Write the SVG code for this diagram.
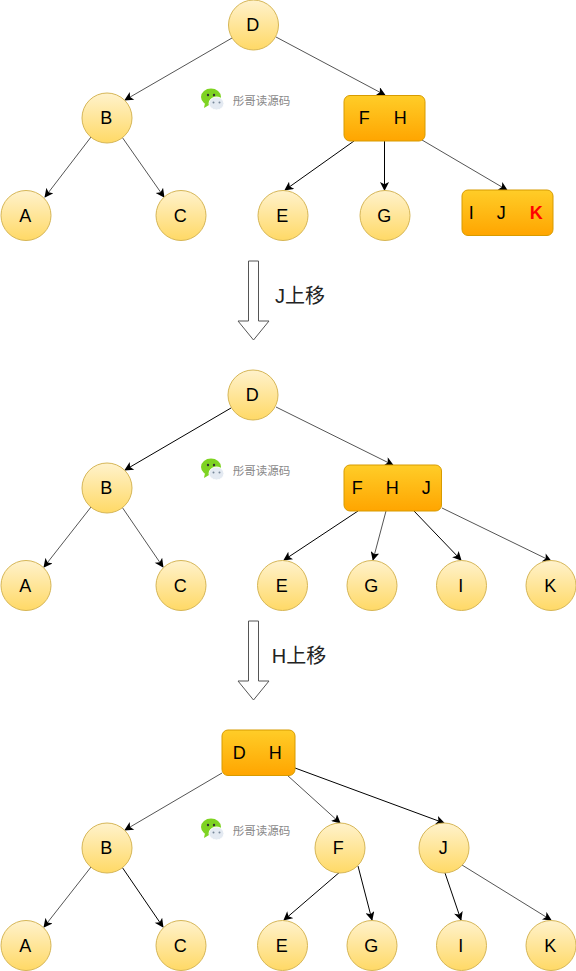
<svg xmlns="http://www.w3.org/2000/svg" width="576" height="971" viewBox="0 0 576 971">
<style>
text{font-family:"Liberation Sans","Noto Sans CJK SC",sans-serif;font-size:18px;fill:#000;text-anchor:middle}
g text{transform:translateX(-.7px)}
.c{fill:url(#cg);stroke:#d6b656}
.r{fill:url(#rg);stroke:#d79b00}
.k{fill:none;stroke:#000;stroke-width:1;marker-end:url(#a)}
.g{fill:none;stroke:#555;stroke-width:1;marker-end:url(#a)}
.big{fill:#fff;stroke:#555;stroke-width:1}
.w{font-size:11.500px;fill:#888}
.l{font-size:20px;fill:#222}
</style>
<defs>
<linearGradient id="cg" x1="0" y1="0" x2="0" y2="1"><stop offset="0" stop-color="#fff2cc"/><stop offset="1" stop-color="#ffd966"/></linearGradient>
<linearGradient id="rg" x1="0" y1="0" x2="0" y2="1"><stop offset="0" stop-color="#ffcd28"/><stop offset="1" stop-color="#ffa500"/></linearGradient>
<marker id="a" viewBox="0 0 10 10" refX="9" refY="5" markerWidth="10" markerHeight="9" markerUnits="userSpaceOnUse" orient="auto"><path d="M0 0L10 5L0 10L2.500 5Z" fill="#000"/></marker>
<g id="logo">
<ellipse cx="211" cy="97" rx="10" ry="8.500" fill="#7ed321"/>
<path d="M205 103l-1 5l5-3Z" fill="#7ed321"/>
<circle cx="208" cy="95" r="1.200" fill="#333"/><circle cx="214" cy="95" r="1.200" fill="#333"/>
<ellipse cx="216.500" cy="103.500" rx="7.500" ry="6.500" fill="#e4eaf2" stroke="#fff"/>
<circle cx="213.500" cy="102.500" r="1" fill="#789"/><circle cx="219.500" cy="102.500" r="1" fill="#789"/>
</g>
</defs>
<g id="connectors">
<path class="g" d="M232 38L125 100"/>
<path class="g" d="M276 37L385 95"/>
<path class="g" d="M91 137L45 197"/>
<path class="g" d="M122 137L164 197"/>
<path class="k" d="M354 141L285 190"/>
<path class="k" d="M384.500 141V190"/>
<path class="g" d="M422 140L507 190"/>
<path class="k" d="M231 408L125 470"/>
<path class="g" d="M276 407L393 465"/>
<path class="g" d="M91 507L44 567"/>
<path class="g" d="M122 507L163 567"/>
<path class="k" d="M358 511L284 560"/>
<path class="g" d="M386 511L373 560"/>
<path class="k" d="M414 511L461 560"/>
<path class="g" d="M442 508L551 561"/>
<path class="g" d="M222 773L125 830"/>
<path class="g" d="M287 775L340 823"/>
<path class="k" d="M295 768L444 823"/>
<path class="g" d="M91 867L44 927"/>
<path class="k" d="M122 867L163 927"/>
<path class="k" d="M341 871L284 920"/>
<path class="k" d="M358 866L372 920"/>
<path class="k" d="M445 873L461 920"/>
<path class="g" d="M462 865L551 920"/>
</g>
<g id="arrow1"><path class="big" d="M248.500 261H258.500V321H269L253.500 340L238 321H248.500Z"/></g>
<text class="l" x="300" y="303">J上移</text>
<g id="arrow2"><path class="big" d="M248.500 621H258.500V681H269L253.500 700L238 681H248.500Z"/></g>
<text class="l" x="299" y="663">H上移</text>
<use href="#logo"/>
<text class="w" x="261.500" y="105">彤哥读源码</text>
<use href="#logo" y="370"/>
<text class="w" x="261.500" y="475">彤哥读源码</text>
<use href="#logo" y="730"/>
<text class="w" x="261.500" y="835">彤哥读源码</text>
<g id="t-D"><circle class="c" cx="253.500" cy="25" r="25"/><text x="253.500" y="31">D</text></g>
<g id="t-B"><circle class="c" cx="107" cy="118" r="25"/><text x="107" y="124">B</text></g>
<g id="t-FH"><rect class="r" x="344" y="95.500" width="81" height="45.500" rx="6"/><text x="365" y="124">F</text><text x="401" y="124">H</text></g>
<g id="t-A"><circle class="c" cx="26" cy="215.500" r="25"/><text x="26" y="222">A</text></g>
<g id="t-C"><circle class="c" cx="181" cy="215.500" r="25"/><text x="181" y="222">C</text></g>
<g id="t-E"><circle class="c" cx="283" cy="215.500" r="25"/><text x="283" y="222">E</text></g>
<g id="t-G"><circle class="c" cx="385" cy="215.500" r="25"/><text x="385" y="222">G</text></g>
<g id="t-IJK"><rect class="r" x="462" y="190" width="91" height="45.500" rx="6"/><text x="472" y="219">I</text><text x="502" y="219">J</text><text x="537" y="219" style="fill:#f00;font-weight:bold">K</text></g>
<g id="m-D"><circle class="c" cx="253" cy="395" r="25"/><text x="253" y="401">D</text></g>
<g id="m-B"><circle class="c" cx="107" cy="488" r="25"/><text x="107" y="494">B</text></g>
<g id="m-FHJ"><rect class="r" x="344" y="465" width="97.500" height="46" rx="6"/><text x="358" y="494">F</text><text x="393" y="494">H</text><text x="427" y="494">J</text></g>
<g id="m-A"><circle class="c" cx="26" cy="585.500" r="25"/><text x="26" y="592">A</text></g>
<g id="m-C"><circle class="c" cx="181" cy="585.500" r="25"/><text x="181" y="592">C</text></g>
<g id="m-E"><circle class="c" cx="282.500" cy="585.500" r="25"/><text x="282.500" y="592">E</text></g>
<g id="m-G"><circle class="c" cx="372" cy="585.500" r="25"/><text x="372" y="592">G</text></g>
<g id="m-I"><circle class="c" cx="461.500" cy="585.500" r="25"/><text x="461.500" y="592">I</text></g>
<g id="m-K"><circle class="c" cx="551" cy="585.500" r="25"/><text x="551" y="592">K</text></g>
<g id="b-DH"><rect class="r" x="222" y="730" width="73" height="45.500" rx="6"/><text x="240" y="759">D</text><text x="276" y="759">H</text></g>
<g id="b-B"><circle class="c" cx="107" cy="848" r="25"/><text x="107" y="854">B</text></g>
<g id="b-F"><circle class="c" cx="340" cy="848" r="25"/><text x="339" y="854">F</text></g>
<g id="b-J"><circle class="c" cx="444" cy="848" r="25"/><text x="444" y="854">J</text></g>
<g id="b-A"><circle class="c" cx="26" cy="945.500" r="25"/><text x="26" y="952">A</text></g>
<g id="b-C"><circle class="c" cx="181" cy="945.500" r="25"/><text x="181" y="952">C</text></g>
<g id="b-E"><circle class="c" cx="282.500" cy="945.500" r="25"/><text x="282.500" y="952">E</text></g>
<g id="b-G"><circle class="c" cx="372" cy="945.500" r="25"/><text x="372" y="952">G</text></g>
<g id="b-I"><circle class="c" cx="461.500" cy="945.500" r="25"/><text x="461.500" y="952">I</text></g>
<g id="b-K"><circle class="c" cx="551" cy="945.500" r="25"/><text x="551" y="952">K</text></g>
</svg>
